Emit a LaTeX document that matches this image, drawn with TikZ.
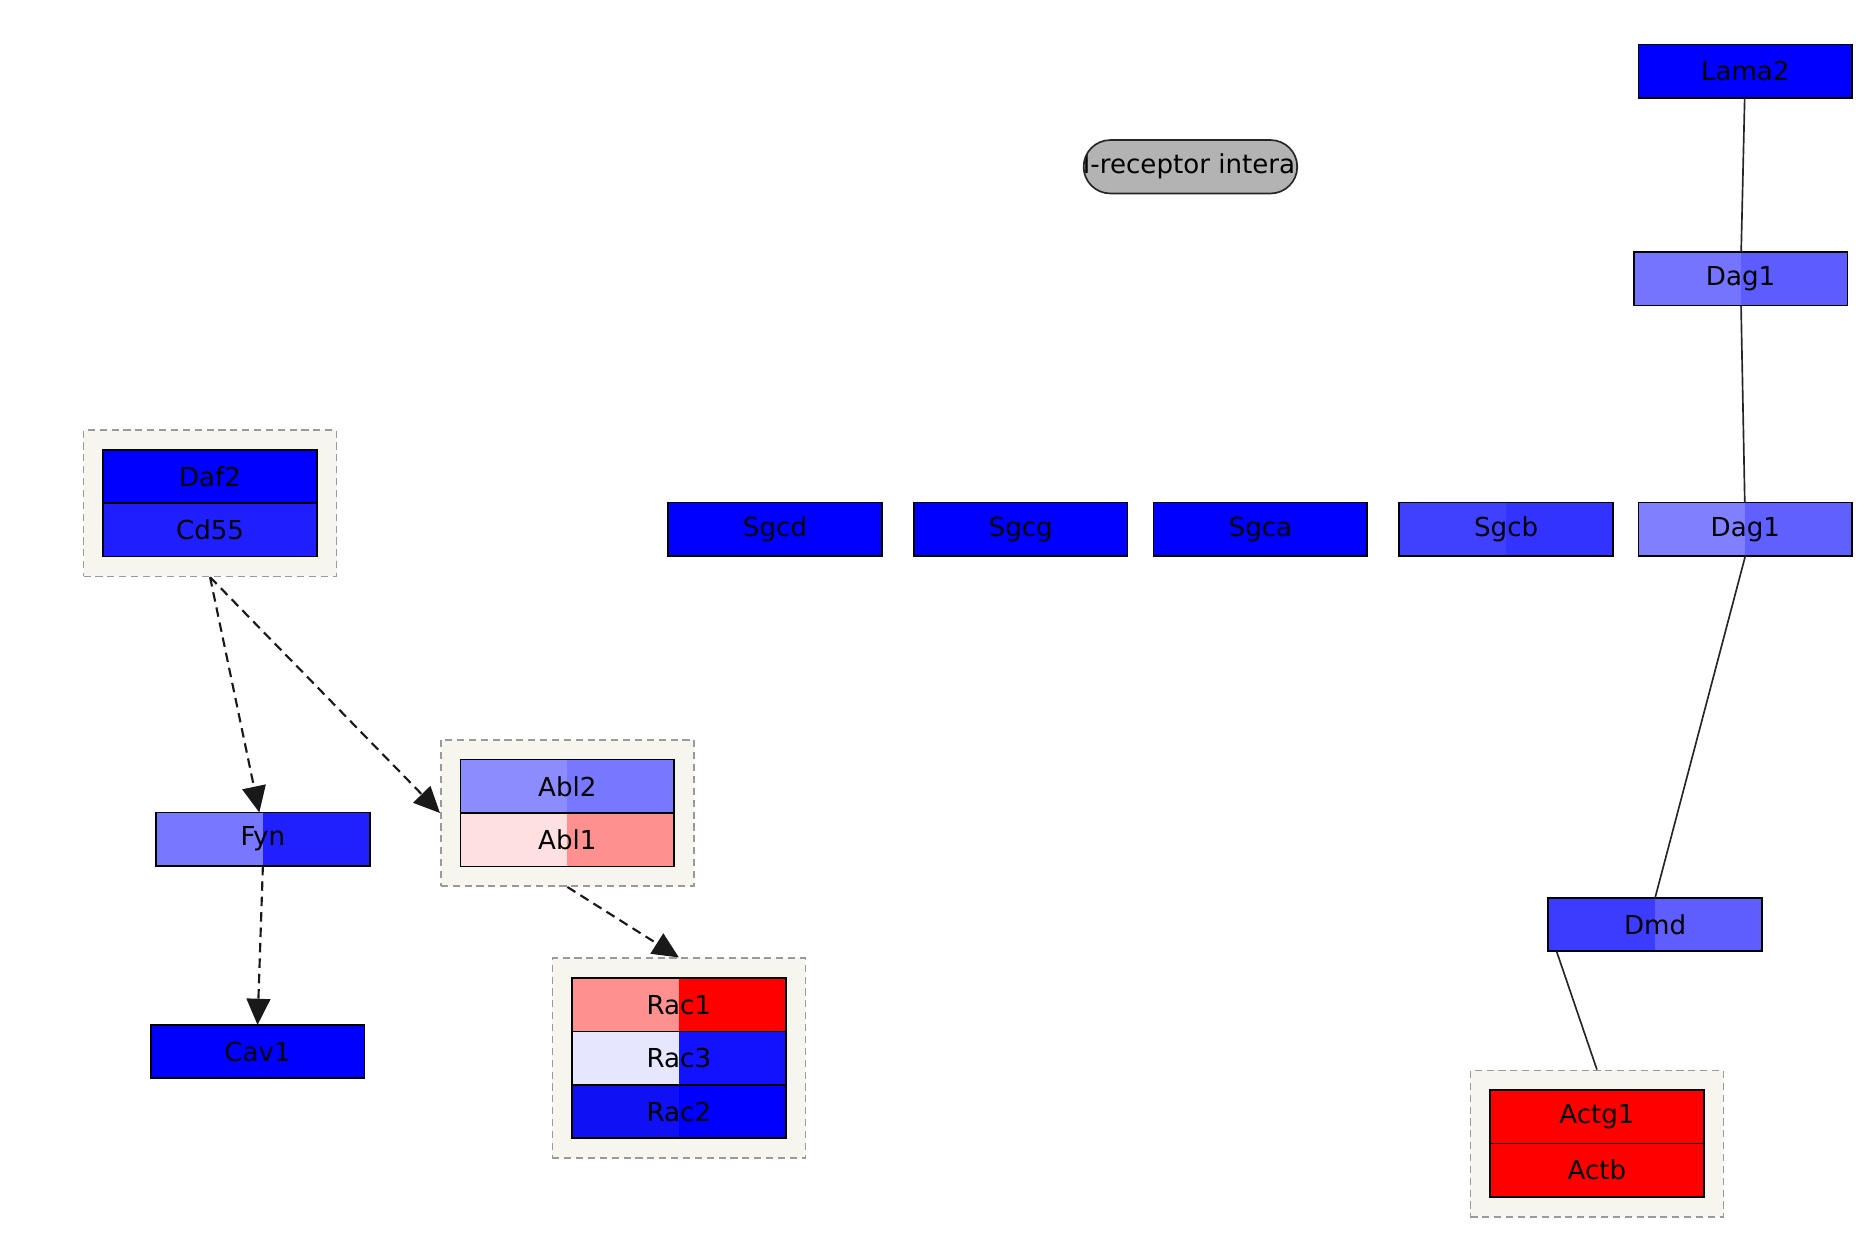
\documentclass[tikz,border=0pt]{standalone}
\usepackage{fontspec}
\setmainfont{DejaVu Sans}
\usetikzlibrary{positioning,fit,backgrounds,arrows.meta,shapes.misc}
\definecolor{genblue}{HTML}{0000FF}
\definecolor{genred}{HTML}{FF0000}
\definecolor{cplxfill}{HTML}{F6F6EF}
\definecolor{cplxline}{HTML}{9A9A9A}
\definecolor{pillgray}{HTML}{B3B3B3}
\definecolor{dagaL}{HTML}{7474FF}
\definecolor{dagaR}{HTML}{5C5CFF}
\definecolor{dagbL}{HTML}{8080FF}
\definecolor{dagbR}{HTML}{6060FF}
\definecolor{sgcbL}{HTML}{4040FF}
\definecolor{sgcbR}{HTML}{3333FF}
\definecolor{dmdL}{HTML}{3C3CFF}
\definecolor{dmdR}{HTML}{5E5EFF}
\definecolor{cdblue}{HTML}{1E1EFF}
\definecolor{fynL}{HTML}{7878FF}
\definecolor{fynR}{HTML}{2020FF}
\definecolor{ablbL}{HTML}{8C8CFF}
\definecolor{ablbR}{HTML}{7777FF}
\definecolor{ablaL}{HTML}{FFE0E0}
\definecolor{ablaR}{HTML}{FF9090}
\definecolor{racaL}{HTML}{FF9090}
\definecolor{raccL}{HTML}{E6E6FF}
\definecolor{raccR}{HTML}{1212FF}
\definecolor{racbL}{HTML}{1010F5}

\begin{document}
\begin{tikzpicture}[x=0.5pt,y=-0.5pt,
                    genefont/.style={font=\fontsize{11}{13}\selectfont},
                    gene/.style={draw=black,line width=0.7pt,minimum width=90pt,minimum height=22.5pt,
                                 inner sep=0pt,outer sep=0pt,genefont,fill=genblue},
                    halves/.style 2 args={gene,fill=#2,
                                 path picture={\fill[#1] (path picture bounding box.south west)
                                     rectangle (path picture bounding box.north);}},
                    cplx/.style={draw=cplxline,fill=cplxfill,dash pattern=on 3pt off 2pt,
                                 line width=0.7pt,inner sep=8.3pt},
                    link/.style={draw=black!85,line width=0.7pt},
                    reg/.style={draw=black!90,line width=0.9pt,dash pattern=on 4pt off 2.5pt,
                                -{Triangle[length=11pt,width=10pt]}},
                    pill/.style={rounded rectangle,draw=black!85,line width=0.7pt,fill=pillgray,
                                 minimum width=90pt,minimum height=22.5pt,inner sep=0pt,
                                 path picture={\node[genefont,xshift=2.5pt] at (path picture bounding box.center)
                                     {ECM-receptor interaction};}}]
\useasboundingbox (0,0) rectangle (1568,1060);

\node[gene] (lama2) at (1470.5,60) {Lama2};
\node[pill] (ecm) at (1003,140.5) {};
\node[halves={dagaL}{dagaR}] (dag1a) at (1466.5,235) {Dag1};

\node[gene] (sgcd) at (653,446) {Sgcd};
\node[gene] (sgcg) at (860,446) {Sgcg};
\node[gene] (sgca) at (1062,446) {Sgca};
\node[halves={sgcbL}{sgcbR}] (sgcb) at (1269,446) {Sgcb};
\node[halves={dagbL}{dagbR}] (dag1b) at (1470.5,446) {Dag1};

\node[halves={dmdL}{dmdR}] (dmd) at (1394.5,779) {Dmd};
\node[gene,fill=genred] (actg1) at (1345.5,941) {Actg1};
\node[gene,fill=genred,below=0pt of actg1] (actb) {Actb};

\node[gene] (daf2) at (177,401.5) {Daf2};
\node[gene,fill=cdblue,below=0pt of daf2] (cd55) {Cd55};

\node[halves={fynL}{fynR}] (fyn) at (221.5,707) {Fyn};
\node[gene] (cav1) at (217,886) {Cav1};

\node[halves={ablbL}{ablbR}] (abl2) at (478,662.5) {Abl2};
\node[halves={ablaL}{ablaR},below=0pt of abl2] (abl1) {Abl1};

\node[halves={racaL}{genred}] (rac1) at (572,846.5) {Rac1};
\node[halves={raccL}{raccR},below=0pt of rac1] (rac3) {Rac3};
\node[halves={racbL}{genblue},below=0pt of rac3] (rac2) {Rac2};

\begin{scope}[on background layer]
\node[cplx,fit=(daf2)(cd55)] (cplxdaf) {};
\node[cplx,fit=(abl2)(abl1)] (cplxabl) {};
\node[cplx,fit=(rac1)(rac2)] (cplxrac) {};
\node[cplx,fit=(actg1)(actb)] (cplxact) {};
\end{scope}

\draw[link] (lama2) -- (dag1a);
\draw[link] (dag1a) -- (dag1b);
\draw[link] (dag1b.south) -- (dmd.north);
\draw[link] ([xshift=3.5pt]dmd.south west) -- (cplxact.north);

\draw[reg] (cplxdaf.south) -- ([xshift=-1.5pt]fyn.north);
\draw[reg] (cplxdaf.south) -- (cplxabl.west);
\draw[reg] (fyn.south) -- (cav1.north);
\draw[reg] (cplxabl.south) -- (cplxrac.north);
\end{tikzpicture}
\end{document}
